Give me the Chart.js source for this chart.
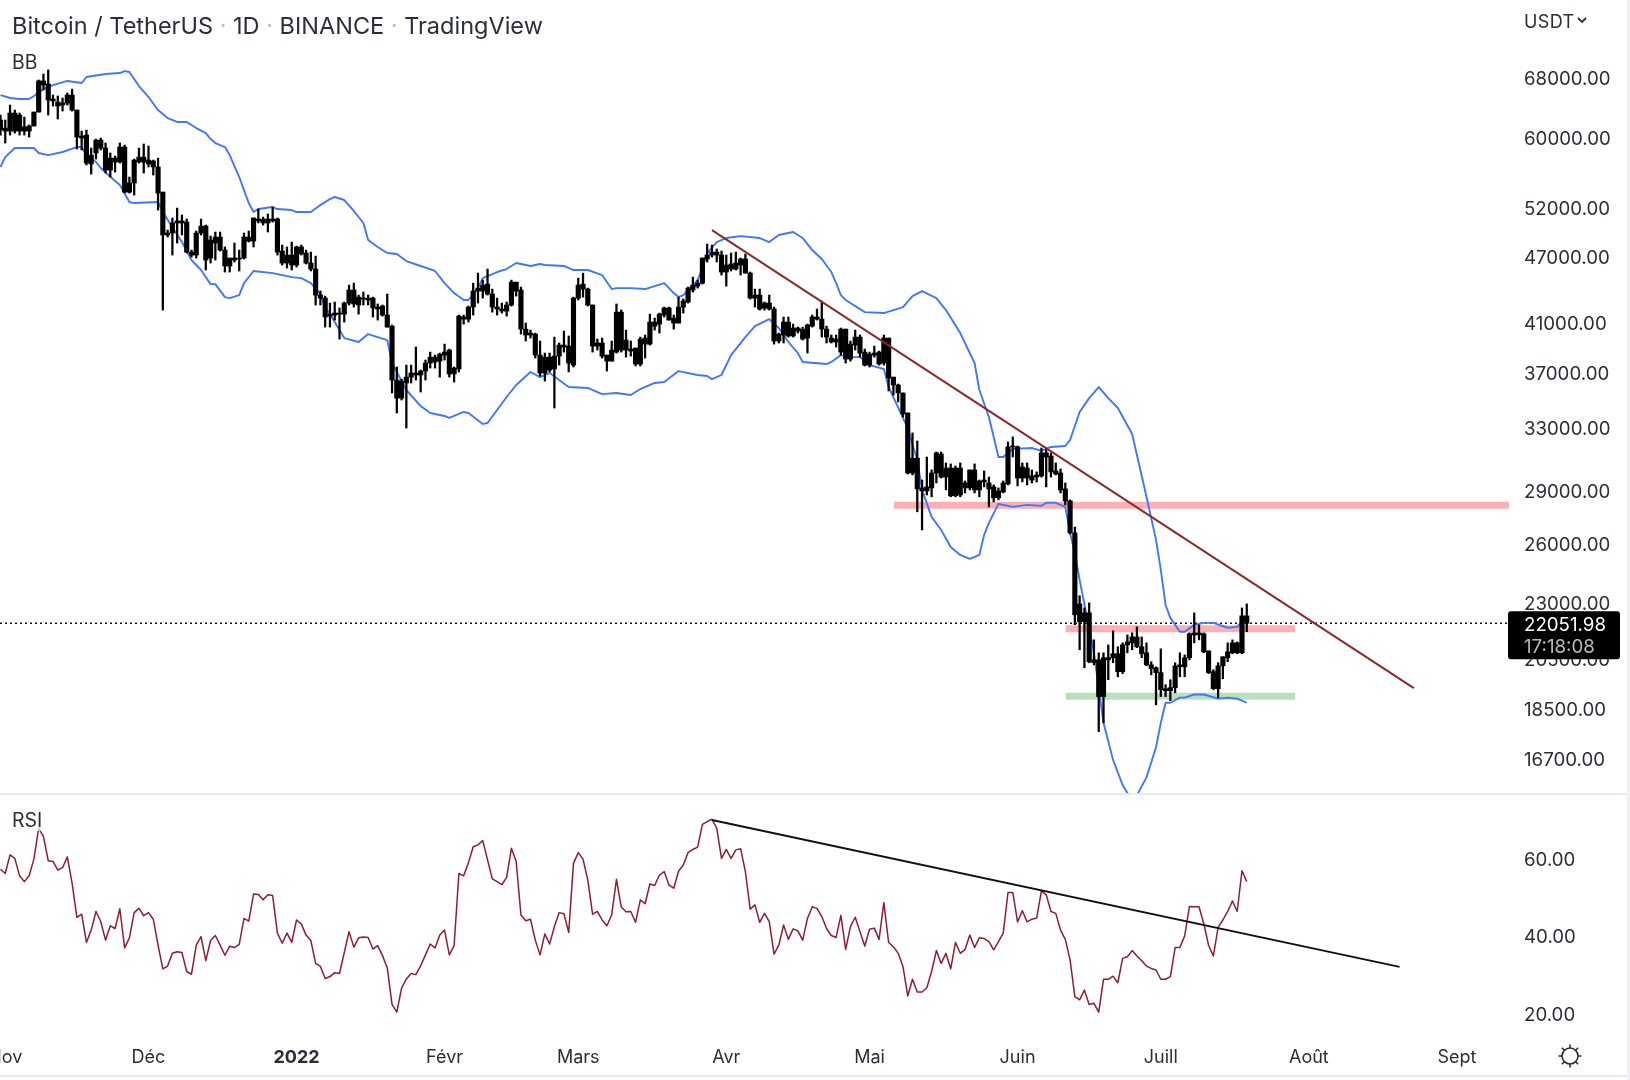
<!DOCTYPE html>
<html lang="fr">
<head>
<meta charset="utf-8">
<title>Bitcoin / TetherUS</title>
<script src="https://cdn.jsdelivr.net/npm/chart.js@4/dist/chart.umd.min.js"></script>
<style>
html,body{margin:0;padding:0;background:#fff;overflow:hidden}
#wrap{position:relative;width:1630px;height:1080px;background:#fff;font-family:Inter,"Noto Sans",sans-serif;color:#2a2e39}
canvas{position:absolute;left:0;display:block}
.t{position:absolute;white-space:nowrap;line-height:1}
.dot{color:#b8bcc6}
.rule{position:absolute;left:0;width:1630px;height:2px;background:#e6e9f0}
#edge{position:absolute;left:1627px;top:0;width:3px;height:1080px;background:#eef0f5}
</style>
</head>
<body>
<div id="wrap">
  <canvas id="price" width="1630" height="794" style="top:0"></canvas>
  <canvas id="rsi" width="1630" height="285" style="top:795px"></canvas>
  <div class="rule" style="top:793px"></div>
  <div class="rule" style="top:1075px"></div>
  <div id="edge"></div>
  <div class="t" style="left:12px;top:14px;font-size:23.5px">Bitcoin / TetherUS <span class="dot">·</span> 1D <span class="dot">·</span> BINANCE <span class="dot">·</span> TradingView</div>
  <div class="t" style="left:12px;top:53px;font-size:19.5px">BB</div>
  <div class="t" style="left:12px;top:811px;font-size:19.5px;background:rgba(255,255,255,.7)">RSI</div>
  <div class="t" style="left:1524px;top:13px;font-size:18px;letter-spacing:.4px">USDT</div>
  <svg style="position:absolute;left:1576px;top:15px" width="12" height="10" viewBox="0 0 12 10"><path d="M2 3 L6 7 L10 3" fill="none" stroke="#2a2e39" stroke-width="1.8"/></svg>
  <svg style="position:absolute;left:1557px;top:1043px" width="26" height="26" viewBox="0 0 26 26" fill="none" stroke="#2a2e39" stroke-width="1.6"><circle cx="13" cy="13" r="8"/><path d="M13 1.5V5M13 21v3.5M1.5 13H5M21 13h3.5M4.8 4.8l2.5 2.5M18.7 18.7l2.5 2.5M21.2 4.8l-2.5 2.5M7.3 18.7l-2.5 2.5"/></svg>
</div>
<script>
// Day numbers count from 1 Dec 2021 = 0.
const monthTicks = [-30, 0, 31, 62, 90, 121, 151, 182, 212, 243, 274];
const monthLabels = ['Nov', 'Déc', '2022', 'Févr', 'Mars', 'Avr', 'Mai', 'Juin', 'Juill', 'Août', 'Sept'];
const priceTicks = [68000, 60000, 52000, 47000, 41000, 37000, 33000, 29000, 26000, 23000, 20500, 18500, 16700];
const rsiTicks = [20, 40, 60];
const firstCandleDay = -31;

const highs = [
62870,62230,64180,63520,63130,62610,61600,63260,67580,68420,
69000,65520,65390,65120,65790,66330,63520,60830,60960,58740,
59830,59960,59350,58140,57770,59350,59100,55330,57420,58740,
59230,58980,57300,57530,53640,49600,50850,51900,51160,50740,
47600,49500,50740,50120,48990,49400,49400,47900,46820,48290,
47600,49300,49500,50850,51800,50950,51270,52010,50850,48090,
47900,48390,47990,48090,47600,47400,47010,43740,43290,42670,
42760,42240,42760,44280,44460,43380,43650,43380,43200,42590,
42500,43470,40780,37400,36480,37550,37550,38970,37170,37940,
38570,38330,38490,39210,38810,37400,41630,41630,42410,44460,
45390,44740,45770,43920,43110,42670,42760,44740,44550,44100,
40950,40360,40110,39460,38490,38490,39780,39300,40280,39870,
43200,44920,45390,44010,42500,39620,39700,38330,39460,42590,
42060,40360,39460,38890,39780,39950,41710,41370,41800,42320,
42320,41630,43200,43030,44100,45020,44740,46820,48190,48090,
47700,47500,47110,47310,47400,46820,47210,45490,43920,43920,
42760,43380,42320,40110,41460,41460,40860,40610,40610,40860,
41630,42150,42850,40690,39950,39950,40530,40440,39460,40360,
39950,38810,38570,39050,38650,39950,39700,36630,36110,35450,
34020,32650,32110,29630,31070,30250,31390,31390,30690,30630,
30500,30690,29570,30250,30630,29630,30190,29810,29330,29150,
29570,32050,32380,31780,30690,30690,30250,30130,31650,31650,
31330,30690,30310,29450,28440,26890,23340,22760,23000,21310,
20750,20750,21090,21710,21010,21180,21530,21620,21890,21440,
21180,20370,20160,20920,19430,19630,20330,20750,20660,21620,
22530,21980,21620,20830,20040,20330,20580,21180,21310,21220,
22760,22950];
const bodyTops = [
62230,61210,63130,63130,62870,61340,61470,63260,67450,67450,
67040,64980,64580,64450,65520,65520,63520,60210,60330,57890,
59710,59710,58740,57530,57530,58860,58860,54650,57300,57650,
57650,57300,57190,56490,53640,49300,50330,50540,50540,50430,
47400,49300,50010,50010,48590,48890,48890,47600,46820,46820,
46820,48890,48890,50850,50740,50740,50740,50740,50740,47500,
47110,47110,47900,47900,47310,46340,45770,43380,43110,41710,
41800,41800,42670,43830,43830,43200,43110,43110,43110,42320,
42410,41630,40690,36410,36330,36630,36940,36940,37090,37710,
38170,38170,38410,38570,38730,37320,41540,41460,42320,43740,
44010,44280,44370,43470,42320,42150,42500,44550,44550,43830,
40440,40110,40030,38330,38170,38170,38250,39130,39130,39050,
43110,44280,44370,43920,42500,39300,39300,38330,38730,41880,
41880,39540,38810,38890,39620,39700,41030,41030,41710,42240,
42240,41370,42320,42850,44010,44280,44460,46820,47110,47400,
47400,47110,46150,46250,46340,46730,46730,45390,43380,43380,
42670,42670,42150,40030,41030,41030,40530,40530,40440,40780,
41460,41460,41280,40440,39700,39620,40440,40440,39210,39780,
39780,38570,38410,38490,38570,39700,39700,36630,36040,35450,
34020,30990,30990,29150,29210,30060,31330,31260,30370,30370,
30370,30370,29450,30250,30250,29570,29630,29450,29210,28970,
29450,31720,31780,31720,30440,30370,29880,29940,31330,31330,
31130,30190,30060,29090,28380,26570,22950,22530,22530,20450,
20450,20540,20540,20710,20710,21090,21220,21440,21440,21010,
20750,20240,20120,19920,19270,19310,20200,20240,20540,21580,
21620,21620,21580,20830,19960,20200,20580,20790,21180,21180,
22390,22390];
const bodyBottoms = [
60960,60830,60830,60830,60830,60830,60830,61470,63260,66880,
64850,64720,64050,64180,64450,63520,60080,59960,56950,56840,
58140,58740,56130,56130,57070,57070,53640,53640,54650,57070,
57070,56840,56490,53530,49100,49100,49300,50330,50330,47400,
47110,47110,49300,46630,46820,48290,47600,46060,46060,46630,
46730,46820,48490,48490,50540,50330,50330,50540,47400,46340,
46340,46150,46150,47210,46340,45770,43380,43110,41460,41540,
41630,41710,41710,42670,42590,42500,43030,42940,42240,42150,
41630,40610,36410,35080,35080,36190,36630,36790,36790,37090,
37710,37790,37860,38330,36870,36870,37250,41280,41280,42320,
43740,43740,43470,42320,42150,41970,41970,42500,43740,40440,
39950,39950,38330,36940,36940,37170,37250,38250,38970,37710,
37550,43110,43920,42500,39050,39050,38250,37860,37860,38570,
38730,38730,38650,37630,37630,39210,39210,40690,40860,41630,
41200,40950,40950,42320,42760,43830,44190,44460,46730,47110,
47110,45490,45490,45770,45770,46150,45390,43110,43110,42150,
42240,42150,39460,39460,39950,39870,39870,40280,39620,39700,
40690,41280,40440,39780,39380,39380,38570,38020,38020,39130,
38490,37550,37550,38330,37630,37710,36560,36040,35450,33950,
30060,30060,29090,28970,28970,29150,30060,29810,29810,28680,
28680,28730,29150,29150,29030,29030,29510,29090,28560,28560,
28910,29390,31720,29750,29750,29750,29630,29810,29880,31070,
30130,30000,29030,28380,26570,22440,22120,22120,20370,20330,
18960,18960,20450,20540,19960,19960,21090,21180,21010,20710,
20240,20080,19920,19230,19190,19190,19310,20160,20160,20540,
21530,21530,20790,19920,19270,19270,20200,20540,20750,20750,
20750,22052];
const lows = [
60330,59350,60330,60580,60330,60330,60080,61470,63260,66200,
62870,64050,62360,63390,64180,63390,58620,58500,56720,55670,
57420,58500,55790,55330,55900,56950,53530,53530,53310,56950,
55790,56490,55560,51690,42060,48900,47110,48290,49100,47310,
46920,46820,49100,45680,46340,46630,47500,45490,45490,46440,
45590,46730,48390,47900,50330,50120,49400,50430,47110,46150,
45870,45680,45960,47110,46250,45590,42500,42500,40610,40610,
41200,39620,41030,42500,42320,41710,42500,42500,41460,41200,
41540,40610,35450,34020,34940,32980,36190,36410,35520,36410,
37320,37320,36630,37940,36630,36260,37020,40860,41030,41630,
42670,43110,43380,41880,41630,41800,41540,42410,43290,40030,
39460,39700,38100,36710,36330,37020,34370,37550,38570,37020,
37400,42940,43200,42410,38570,38730,38100,37090,37860,38490,
38570,38170,38250,37480,37480,38100,39130,40360,40110,41460,
41200,40440,40950,41800,42670,43650,44010,44370,46440,46920,
46440,45210,44190,45590,45680,45210,45390,43030,42320,42060,
42060,42060,39210,39300,39300,39780,39780,40110,39540,38490,
40610,41200,39780,39300,39300,38970,38330,37710,37860,38730,
38170,37480,37400,38170,37550,37550,35600,35300,34800,33740,
30000,29940,27750,26730,28730,28620,29450,29750,29030,28620,
28620,28620,28850,29030,28850,28620,29210,28030,28320,28440,
28850,29330,31070,29270,29510,29330,29450,29510,29810,29210,
29810,29940,28850,28150,26510,21990,20880,20120,20330,20240,
17640,17960,19630,20330,19750,19880,20750,20880,20970,20540,
20200,19830,18640,18960,18960,18800,19110,19750,19750,20450,
21180,21310,20750,19880,19230,18920,19670,20370,20710,20710,
20710,21670];

const bbUpperDays = [-31,-29,-27,-25,-24,-22,-20,-17,-14,-13,-9,-6,-5,-4,-2,0,2,4,6,8,10,12,13,14,16,17,19,20,21,22,23,26,27,30,31,34,36,38,39,41,43,45,46,48,50,52,54,57,60,62,64,66,67,69,70,73,75,77,80,82,83,87,89,92,95,97,98,101,104,108,110,111,112,115,116,117,119,121,124,128,130,132,135,137,139,141,143,144,145,146,150,154,158,160,162,165,167,170,173,174,176,178,179,181,185,187,189,192,193,195,197,199,201,203,206,207,209,211,212,213,214,215,216,217,219,221,223,226,228,230];
const bbUpperValues = [65520,65120,64980,64980,65390,66330,66880,67450,67170,68000,68420,68560,68840,68700,66740,65250,63520,62490,61980,61980,61210,60580,59830,59350,58860,57890,55330,53860,52450,51480,51800,52010,51800,51690,51480,51480,52220,52880,53100,52770,51590,50330,48590,47900,47310,47210,46530,46060,45590,44460,43560,42940,42940,44010,44920,45490,45770,46340,46060,46250,46150,46060,45680,45680,45210,43920,44010,44010,43920,44460,43560,43200,43380,44740,45870,47310,48390,48790,48990,48790,48390,49100,49400,48790,47600,46730,45490,44460,43380,42940,41880,41800,42320,43290,43740,43110,42060,40110,37710,35670,33740,31070,31070,31590,31650,31460,31720,31780,32180,34090,35080,35890,35080,34370,32580,31200,28620,26190,24620,22900,22300,21980,21670,21670,21980,22070,22070,21850,21890,22390];
const bbLowerDays = [-31,-30,-28,-24,-23,-21,-18,-15,-14,-13,-11,-10,-7,-6,-4,-3,2,3,5,7,9,11,13,14,16,17,19,20,22,26,30,32,34,36,37,39,41,44,46,50,51,54,57,59,62,63,66,67,70,71,75,77,80,82,84,88,92,95,98,101,103,106,108,111,115,117,118,120,122,125,127,130,132,134,136,137,142,143,145,147,149,151,154,155,159,160,161,162,164,166,168,170,172,174,175,176,178,181,184,187,188,190,192,193,194,195,198,200,202,204,205,206,207,209,211,212,213,214,216,217,219,221,224,226,228,230];
const bbLowerValues = [56490,57650,58740,58740,58140,57890,58260,58860,58860,57890,57070,56370,54880,54440,52550,52440,52550,51480,49900,48390,46630,45680,44370,44370,43200,43110,43380,44460,45590,45390,45020,44920,44460,43470,42320,41030,39700,39380,40030,39540,37710,35670,34510,34020,33810,33670,34090,34020,33260,33320,35160,36040,37020,36630,36940,35890,35820,35370,35450,35300,35740,36190,36260,37090,36790,36710,36480,36790,38330,39780,40690,41280,40530,39380,38490,37790,37630,37790,38330,38170,38170,37550,37250,35890,32980,31850,30880,29030,27460,26730,25810,25390,25180,25390,26460,27120,28210,28030,28150,28090,28270,28270,28030,26570,25490,24120,20750,17960,16640,15800,15540,15250,15470,16050,17080,17960,18720,18720,18920,18920,19040,19040,18880,18920,18880,18720];

const rsiValues = [
57.1,56.0,60.8,59.9,55.4,53.9,55.4,59.7,67.7,65.5,
59.3,59.1,56.9,57.5,60.3,53.5,44.7,45.5,38.2,41.4,
46.2,43.6,38.8,42.5,41.8,46.9,36.8,39.4,45.9,47.0,
45.1,45.9,44.2,37.5,31.4,32.1,35.4,35.8,35.6,30.7,
30.0,37.5,39.7,33.5,38.7,40.0,37.5,34.9,37.2,36.9,
37.7,44.4,43.7,50.7,50.6,49.2,50.5,50.3,40.6,38.0,
40.6,38.2,44.0,43.0,40.1,38.7,32.8,32.0,28.9,29.4,
30.4,30.2,35.6,41.0,37.0,39.4,39.6,39.5,36.5,37.4,
34.8,31.7,22.2,20.2,26.4,28.8,30.2,29.9,32.2,35.0,
37.8,36.8,40.1,41.4,35.0,37.4,56.0,55.4,58.8,62.9,
63.4,64.5,59.5,54.6,53.9,53.1,55.0,62.5,59.1,45.3,
43.8,44.2,38.8,35.0,40.4,37.8,42.3,45.9,45.6,40.8,
58.6,61.4,59.7,54.3,45.5,46.2,44.0,42.5,45.3,54.5,
47.4,46.1,46.2,43.4,49.2,48.2,53.3,52.9,55.6,56.5,
53.0,52.2,56.6,58.2,61.4,62.2,62.8,68.7,69.4,70.0,
67.7,59.9,62.2,59.9,62.1,62.4,56.5,46.8,47.9,43.4,
45.7,43.6,35.2,37.5,42.7,39.0,41.7,41.2,38.8,44.4,
47.4,47.0,44.9,41.8,40.0,39.5,45.2,36.4,42.3,44.7,
41.0,37.3,41.6,41.9,39.0,48.5,38.2,37.1,35.4,32.0,
24.4,28.7,25.4,25.4,26.5,30.7,36.1,32.8,35.4,31.4,
38.2,35.4,36.4,40.1,36.9,39.4,39.2,38.4,36.3,38.4,
40.6,51.1,51.1,43.5,46.4,43.5,44.2,44.5,51.5,50.5,
46.2,45.7,41.4,39.0,33.7,24.2,23.4,25.9,22.2,22.5,
20.2,28.7,28.7,29.5,27.8,34.1,34.5,36.1,34.7,33.5,
32.1,31.5,31.1,28.7,28.7,29.4,36.9,36.9,39.9,47.5,
47.4,47.4,43.1,37.5,34.7,42.1,44.0,46.2,48.9,46.2,
56.7,53.9];

const lastPrice = 22051.98;
const lastPriceText = '22051.98';
const countdownText = '17:18:08';

const priceTrend = [{x: 118, y: 49600}, {x: 265, y: 19290}];
const rsiTrend = [{x: 118, y: 69.8}, {x: 262, y: 31.9}];
const resistanceHigh = [{x: 156.1, y: 28130}, {x: 284.9, y: 28130}];
const resistanceLow = [{x: 192.1, y: 21800}, {x: 240.1, y: 21800}];
const supportLow = [{x: 192.1, y: 18975}, {x: 240.1, y: 18975}];

const xMin = -31.1, xMax = 284.92;
const priceMin = 15510, priceMax = 79700;
const rsiMin = 14.06, rsiMax = 76.26;
const axisFont = {family: 'Inter, "Noto Sans", sans-serif', size: 18};
const valueFont = {family: 'Inter, "Noto Sans", sans-serif', size: 18.7};
const tickColor = '#2a2e39';

const days = highs.map((_, i) => firstCandleDay + i);
const zip = (xs, ys) => xs.map((x, i) => ({x, y: ys[i]}));
const lineDs = (data, color, width, order, extra) => Object.assign({
  type: 'line', data, borderColor: color, borderWidth: width, pointRadius: 0, tension: 0,
  fill: false, order, borderCapStyle: 'butt', borderJoinStyle: 'round'
}, extra || {});

const priceLabel = {
  id: 'priceLabel',
  afterDraw(chart) {
    const c = chart.ctx, y = chart.scales.y.getPixelForValue(lastPrice);
    c.save();
    c.fillStyle = '#000';
    c.beginPath();
    c.roundRect(1508, y - 12, 112, 48, 3);
    c.fill();
    c.font = '18.7px Inter, "Noto Sans", sans-serif';
    c.textBaseline = 'middle';
    c.textAlign = 'left';
    c.fillStyle = '#fff';
    c.fillText(lastPriceText, 1524, y + 2);
    c.fillStyle = '#b9bbbf';
    c.fillText(countdownText, 1524, y + 24);
    c.restore();
  }
};

new Chart(document.getElementById('price'), {
  type: 'bar',
  data: {
    datasets: [
      lineDs(resistanceHigh, 'rgb(250,176,181)', 7, 8),
      lineDs(resistanceLow, 'rgb(250,176,181)', 7, 8),
      lineDs(supportLow, 'rgb(184,224,186)', 7, 8),
      lineDs([{x: xMin, y: lastPrice}, {x: xMax, y: lastPrice}], '#111', 1.5, 7, {borderDash: [2, 3]}),
      lineDs(zip(bbUpperDays, bbUpperValues), 'rgb(62,120,250)', 1.9, 6),
      lineDs(zip(bbLowerDays, bbLowerValues), 'rgb(62,120,250)', 1.9, 6),
      {type: 'bar', grouped: false, order: 4, backgroundColor: '#000', borderWidth: 0, barPercentage: 1, categoryPercentage: 1, maxBarThickness: 1.6,
       data: days.map((x, i) => ({x, y: [lows[i], highs[i]]}))},
      {type: 'bar', grouped: false, order: 3, backgroundColor: '#000', borderWidth: 0, barPercentage: 1, categoryPercentage: 1, maxBarThickness: 4.5,
       data: days.map((x, i) => ({x, y: [bodyBottoms[i], bodyTops[i]]}))},
      lineDs(priceTrend, 'rgb(140,42,42)', 2, 1)
    ]
  },
  options: {
    responsive: false, animation: false, maintainAspectRatio: false,
    layout: {padding: 0},
    plugins: {legend: {display: false}, tooltip: {enabled: false}},
    scales: {
      x: {type: 'linear', display: false, min: xMin, max: xMax, offset: false, grid: {display: false, offset: false}},
      y: {
        type: 'logarithmic', position: 'right', min: priceMin, max: priceMax, beginAtZero: false,
        grid: {display: false, drawTicks: false}, border: {display: false},
        ticks: {font: valueFont, color: tickColor, padding: 15, labelOffset: 2, autoSkip: false, callback: v => Number(v).toFixed(2)},
        afterBuildTicks: s => { s.ticks = priceTicks.map(value => ({value})); },
        afterFit: s => { s.width = 121; s.paddingTop = 0; s.paddingBottom = 0; }
      }
    }
  },
  plugins: [priceLabel]
});

new Chart(document.getElementById('rsi'), {
  type: 'line',
  data: {
    datasets: [
      lineDs(zip(days, rsiValues), 'rgb(140,30,48)', 1.5, 2),
      lineDs(rsiTrend, '#111', 2, 1)
    ]
  },
  options: {
    responsive: false, animation: false, maintainAspectRatio: false,
    layout: {padding: 0},
    plugins: {legend: {display: false}, tooltip: {enabled: false}},
    scales: {
      x: {
        type: 'linear', min: xMin, max: xMax, offset: false,
        grid: {display: false, drawTicks: false}, border: {display: false},
        ticks: {
          color: tickColor, padding: 11, autoSkip: false, maxRotation: 0, minRotation: 0,
          font: ctx => Object.assign({}, axisFont, ctx.tick && ctx.tick.value === 31 ? {weight: 'bold'} : {}),
          callback: v => monthLabels[monthTicks.indexOf(v)]
        },
        afterBuildTicks: s => { s.ticks = monthTicks.map(value => ({value})); },
        afterFit: s => { s.height = 44; s.paddingLeft = 0; s.paddingRight = 0; }
      },
      y: {
        position: 'right', min: rsiMin, max: rsiMax,
        grid: {display: false, drawTicks: false}, border: {display: false},
        ticks: {font: valueFont, color: tickColor, padding: 15, labelOffset: 2, autoSkip: false, callback: v => Number(v).toFixed(2)},
        afterBuildTicks: s => { s.ticks = rsiTicks.map(value => ({value})); },
        afterFit: s => { s.width = 121; s.paddingTop = 0; s.paddingBottom = 0; }
      }
    }
  }
});
</script>
</body>
</html>
